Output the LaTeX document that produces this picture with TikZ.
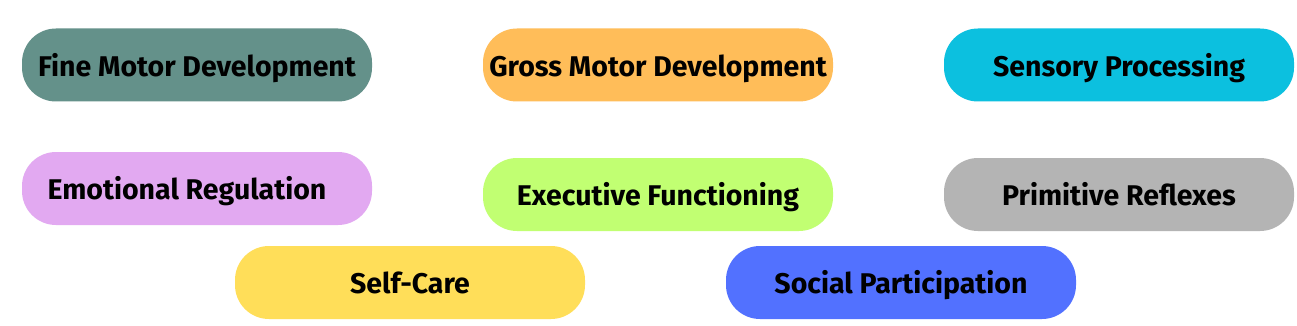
\documentclass[tikz,border=0pt]{standalone}
\usepackage{fontspec}
\setmainfont{Fira Sans}
\definecolor{cfine}{HTML}{64918A}
\definecolor{cgross}{HTML}{FFBD59}
\definecolor{csens}{HTML}{0CC0DF}
\definecolor{cemo}{HTML}{E2A9F1}
\definecolor{cexec}{HTML}{C1FF72}
\definecolor{cprim}{HTML}{B4B4B4}
\definecolor{cself}{HTML}{FFDE59}
\definecolor{csoc}{HTML}{5271FF}
\tikzset{
  pill/.style={rectangle, rounded corners=34pt, minimum width=350pt, minimum height=73pt,
    inner sep=0pt, text height=22.6pt, text depth=0pt,
    font=\fontsize{28.5pt}{32pt}\selectfont\bfseries, text=black, draw=none}
}
\begin{document}
\begin{tikzpicture}[x=1pt,y=-1pt]
\useasboundingbox[fill=white] (0,0) rectangle (1297,326);
\node[pill, fill=cfine] (fine) at (197,65) {Fine Motor Development};
\node[pill, fill=cgross] (gross) at (658,65) {Gross Motor Development};
\node[pill, fill=csens] (sens) at (1119,65) {Sensory Processing};
\node[pill, fill=cemo] (emo) at (197,188.5) {\hspace*{-20pt}Emotional Regulation};
\node[pill, fill=cexec] (exec) at (658,194.5) {Executive Functioning};
\node[pill, fill=cprim] (prim) at (1119,194.5) {Primitive Reflexes};
\node[pill, fill=cself] (self) at (410,282.5) {Self-Care};
\node[pill, fill=csoc] (soc) at (901,282.5) {Social Participation};
\end{tikzpicture}
\end{document}
